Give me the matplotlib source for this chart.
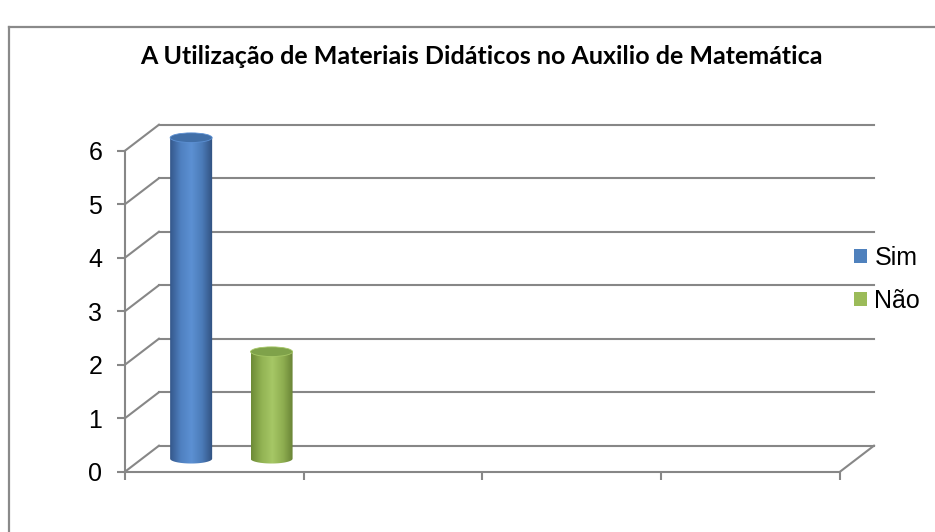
import numpy as np
import matplotlib.pyplot as plt
from matplotlib.colors import LinearSegmentedColormap
from matplotlib.patches import Ellipse, Polygon, Patch
from matplotlib.lines import Line2D

# dados do grafico
series = ['Sim', 'Não']
values = [6, 2]
yticks = [0, 1, 2, 3, 4, 5, 6]
n_slots = 4

title = 'A Utilização de Materiais Didáticos no Auxilio de Matemática'

body_colors = {
    'Sim': ['#34578a', '#4f80c0', '#5c90d3', '#4b7bb8', '#30507e'],
    'Não': ['#6d8a36', '#92b353', '#a6c766', '#8eae50', '#657f33'],
}
top_colors = {'Sim': '#416fa8', 'Não': '#7fa24a'}
legend_colors = {'Sim': '#4f81bd', 'Não': '#9bbb59'}

grid_color = '#878787'
depth_x, depth_y = 0.19, 0.486   # profundidade do "3D" em unidades de dados

plt.rcParams['font.family'] = ['Liberation Sans', 'DejaVu Sans']

fig = plt.figure(figsize=(9.35, 5.32), dpi=100)
ax = fig.add_axes([125 / 935, 60.3 / 532, 715 / 935, 321 / 532])
ax.set_xlim(0, n_slots)
ax.set_ylim(0, max(yticks))

# moldura do grafico
fig.add_artist(Line2D([9 / 935, 9 / 935], [0, 1 - 27 / 532], color='#8a8a8a', lw=1.6))
fig.add_artist(Line2D([9 / 935, 1], [1 - 27 / 532, 1 - 27 / 532], color='#8a8a8a', lw=1.6))

# eixos frontais
for s in ['top', 'right']:
    ax.spines[s].set_visible(False)
for s in ['left', 'bottom']:
    ax.spines[s].set_color(grid_color)
    ax.spines[s].set_linewidth(1.5)
ax.set_yticks(yticks)
ax.set_yticklabels([str(t) for t in yticks], fontsize=18)
ax.set_xticks(range(n_slots + 1))
ax.set_xticklabels([])
ax.tick_params(axis='both', direction='out', length=5.8, width=1.5, color=grid_color)
ax.tick_params(axis='y', pad=10.5)

# parede do fundo e diagonais
for v in yticks:
    ax.plot([0, depth_x], [v, v + depth_y], color=grid_color, lw=1.5, clip_on=False, zorder=1)
    ax.plot([depth_x, n_slots + depth_x], [v + depth_y, v + depth_y],
            color=grid_color, lw=1.5, clip_on=False, zorder=1)
ax.plot([n_slots, n_slots + depth_x], [0, depth_y], color=grid_color, lw=1.5, clip_on=False, zorder=1)

# cilindros
bar_pos = [0.275, 0.725]
bar_w = 0.235
ell_h = 0.18
for name, val, xp in zip(series, values, bar_pos):
    cx = xp + depth_x / 2
    y0 = depth_y / 2
    y1 = val + depth_y / 2
    x0, x1 = cx - bar_w / 2, cx + bar_w / 2
    t = np.linspace(np.pi, 2 * np.pi, 60)
    arc = np.column_stack([cx + bar_w / 2 * np.cos(t), y0 + ell_h / 2 * np.sin(t)])
    outline = np.vstack([[x0, y1], arc, [x1, y1]])
    clip = Polygon(outline, closed=True, facecolor='none', edgecolor='none',
                   transform=ax.transData, clip_on=False)
    ax.add_patch(clip)
    cmap = LinearSegmentedColormap.from_list(name, body_colors[name])
    grad = np.linspace(0, 1, 256).reshape(1, -1)
    im = ax.imshow(grad, cmap=cmap, aspect='auto', extent=[x0, x1, y0 - ell_h, y1], zorder=3)
    im.set_clip_path(clip)
    im.set_clip_box(fig.bbox)
    ax.add_patch(Ellipse((cx, y1), bar_w, ell_h, facecolor=top_colors[name],
                         edgecolor=body_colors[name][2], lw=0.6, zorder=4, clip_on=False))

ax.set_xlim(0, n_slots)
ax.set_ylim(0, max(yticks))

# legenda
handles = [Patch(facecolor=legend_colors[n], edgecolor='none', label=n) for n in series]
fig.legend(handles=handles, loc='upper left', bbox_to_anchor=(854 / 935, 1 - 246 / 532),
           frameon=False, fontsize=18, handlelength=0.52, handleheight=0.52,
           handletextpad=0.3, labelspacing=0.76, borderpad=0, borderaxespad=0)

fig.text(481 / 935, 1 - 57 / 532, title, ha='center', va='center', fontsize=18,
         fontweight='bold', family=['Lato', 'DejaVu Sans'])

fig.savefig('out.png', dpi=100)
